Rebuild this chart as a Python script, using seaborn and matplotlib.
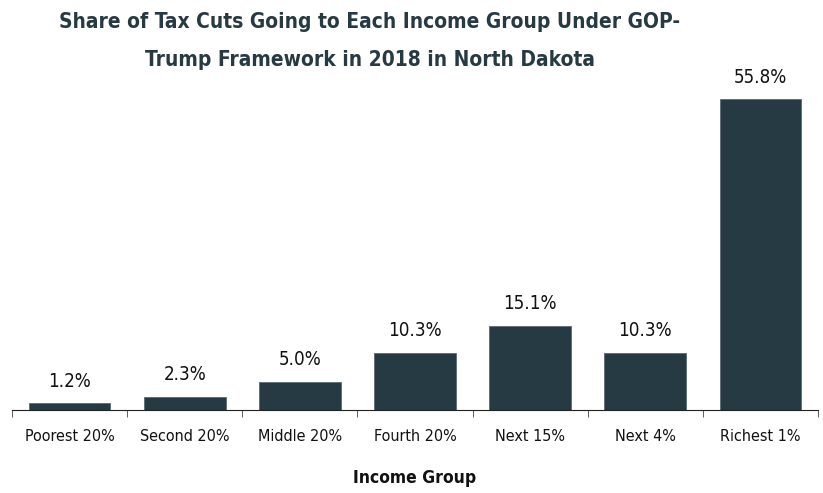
import numpy as np
import pandas as pd
import matplotlib.pyplot as plt
import seaborn as sns

# Parcela dos cortes de impostos por grupo de renda (Dakota do Norte, 2018)
groups = ['Poorest 20%', 'Second 20%', 'Middle 20%', 'Fourth 20%',
          'Next 15%', 'Next 4%', 'Richest 1%']
share = [1.2, 2.3, 5.0, 10.3, 15.1, 10.3, 55.8]

sns.set_style("white")
plt.rcParams['font.family'] = ['DejaVu Sans']
plt.rcParams['font.stretch'] = 'condensed'

df = pd.DataFrame({'group': groups, 'share': share})
cor = '#263a44'

fig = plt.figure(figsize=(8.23, 4.93), dpi=100)
ax = fig.add_axes([12 / 823, 83 / 493, 806 / 823, 334 / 493])
sns.barplot(data=df, x='group', y='share', color=cor, width=0.71,
            saturation=1, edgecolor='#5a6a72', linewidth=0.6, ax=ax)
ax.set_ylim(0, 60)
ax.set_xlim(-0.5, len(groups) - 0.5)

for i, v in enumerate(share):
    ax.text(i, v + 2.3, f'{v:.1f}%', ha='center', va='bottom',
            fontsize=13.5, color='#111111')

sns.despine(ax=ax, left=True)
ax.spines['bottom'].set_color('#222222')
ax.set_yticks([])
ax.set_xticks(np.arange(len(groups)))
ax.set_xticklabels(groups, fontsize=11.5, color='#111111')
ax.set_xticks(np.arange(-0.5, len(groups), 1), minor=True)
ax.tick_params(axis='x', which='major', length=0, pad=14)
ax.tick_params(axis='x', which='minor', length=5, color='#444444',
               bottom=True)
ax.set_xlabel('Income Group', fontsize=12.5, fontweight='bold',
              color='#111111', labelpad=18)
ax.set_ylabel('')

fig.text(370 / 823, 1 - 22 / 493, 'Share of Tax Cuts Going to Each Income Group Under GOP-',
         ha='center', va='center', fontsize=15, fontweight='bold', color=cor)
fig.text(370 / 823, 1 - 60 / 493, 'Trump Framework in 2018 in North Dakota',
         ha='center', va='center', fontsize=15, fontweight='bold', color=cor)

fig.savefig('out.png', dpi=100)
